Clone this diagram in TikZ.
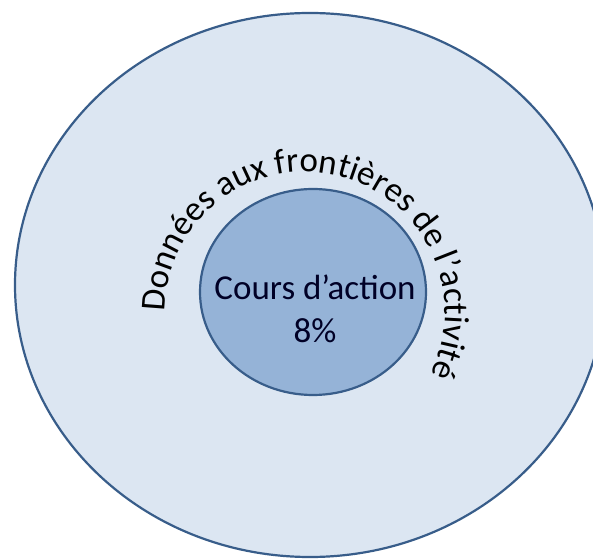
\documentclass[tikz,border=0pt]{standalone}
\usepackage{fontspec}
\setmainfont{Carlito}
\usetikzlibrary{decorations.text}
\definecolor{ringfill}{HTML}{DCE6F2}
\definecolor{corefill}{HTML}{95B3D7}
\definecolor{edgeblue}{HTML}{385D8A}
\begin{document}
\begin{tikzpicture}[x=1pt,y=1pt,
	ring/.style={fill=ringfill,draw=edgeblue,line width=2.2pt},
	core/.style={fill=corefill,draw=edgeblue,line width=2.2pt},
	coretext/.style={font=\fontsize{35}{43}\selectfont,align=center,text=black!85!blue}]
	\useasboundingbox (0,0) rectangle (593,559);
	\fill[white] (0,0) rectangle (593,559);
	\draw[ring] (310,274) ellipse[x radius=295,y radius=272];
	\draw[core] (313,267) ellipse[x radius=113,y radius=103];
	\node[coretext] (cours) at (315,250) {Cours d’action\\8\%};
	% texte courbe autour du disque central
	\coordinate (mid) at (305,247);
	\path[decorate,decoration={text along path,text align=left,
		text={|\fontsize{35}{43}\selectfont|Données aux frontières de l’activité}}]
		(mid) ++(180:140) arc[start angle=180,end angle=-70,radius=140];
\end{tikzpicture}
\end{document}
